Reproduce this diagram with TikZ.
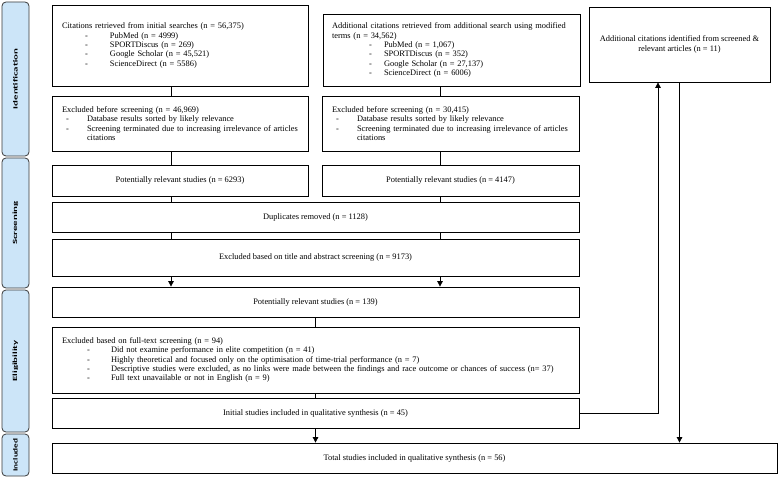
\documentclass[tikz,border=0pt]{standalone}
\usepackage{fontspec}
\setmainfont{Liberation Serif}
\newfontfamily\sidefont{Carlito}
\usetikzlibrary{arrows.meta,calc}
\definecolor{sidefill}{HTML}{CCE5F8}
\definecolor{sideline}{HTML}{3A3A3A}
\newcommand{\itm}[3]{\hspace*{#1pt}\makebox[#2pt][l]{-}#3}
\newcommand{\sidetext}[2][1.7]{\scalebox{#1}[1]{#2}}
\begin{document}
\begin{tikzpicture}[x=1pt,y=-1pt,
  box/.style={draw=black,line width=0.8pt,inner sep=0pt,font=\fontsize{8.4}{9.3}\selectfont},
  lbox/.style={box,align=left},
  cbox/.style={box,align=center},
  side/.style={draw=sideline,fill=sidefill,line width=0.8pt,rounded corners=4pt,rotate=90,
    minimum height=27pt,inner sep=0pt,font=\sidefont\bfseries\fontsize{6.4}{7}\selectfont},
  line/.style={draw=black,line width=0.8pt},
  arr/.style={line,-{Triangle[width=5.5pt,length=5.5pt]}}]
\useasboundingbox (0,0) rectangle (778,478);
% side bars
\node[side,minimum width=154pt] (sIdent) at (15.5,79) {\sidetext{Identification}};
\node[side,minimum width=130pt] (sScreen) at (15.5,223) {\sidetext{Screening}};
\node[side,minimum width=142pt] (sElig) at (15.5,361) {\sidetext{Eligibility}};
\node[side,minimum width=42pt] (sIncl) at (15.5,455) {\sidetext[1.45]{Included}};
% boxes
\node[lbox,minimum width=256pt,minimum height=81pt,text width=236pt] (A) at (180,45.5)
 {Citations retrieved from initial searches (n = 56,375)\\
  \itm{23}{25}{PubMed (n = 4999)}\\
  \itm{23}{25}{SPORTDiscus (n = 269)}\\
  \itm{23}{25}{Google Scholar (n = 45,521)}\\
  \itm{23}{25}{ScienceDirect (n = 5586)}};
\node[lbox,minimum width=257pt,minimum height=72pt,text width=240pt] (B) at (452,50)
 {Additional citations retrieved from additional search using modified\\ terms (n = 34,562)\\
  \itm{37}{15}{PubMed (n = 1,067)}\\
  \itm{37}{15}{SPORTDiscus (n = 352)}\\
  \itm{37}{15}{Google Scholar (n = 27,137)}\\
  \itm{37}{15}{ScienceDirect (n = 6006)}};
\node[cbox,minimum width=181pt,minimum height=75pt] (C) at (679.5,44.5)
 {Additional citations identified from screened \&\\ relevant articles (n = 11)};
\node[lbox,minimum width=256pt,minimum height=55pt,text width=236pt] (EA) at (180,123.5)
 {Excluded before screening (n = 46,969)\\
  \itm{4}{21}{Database results sorted by likely relevance}\\
  \itm{4}{21}{Screening terminated due to increasing irrelevance of articles}\\
  \hspace*{25pt}citations};
\node[lbox,minimum width=257pt,minimum height=55pt,text width=237pt] (EB) at (450.5,123.5)
 {Excluded before screening (n = 30,415)\\
  \itm{4}{21}{Database results sorted by likely relevance}\\
  \itm{4}{21}{Screening terminated due to increasing irrelevance of articles}\\
  \hspace*{25pt}citations};
\node[cbox,minimum width=256pt,minimum height=31pt] (PA) at (180,180.5)
 {Potentially relevant studies (n = 6293)};
\node[cbox,minimum width=257pt,minimum height=31pt] (PB) at (450.5,180.5)
 {Potentially relevant studies (n = 4147)};
\node[cbox,minimum width=527pt,minimum height=30pt] (Dup) at (315.5,217)
 {Duplicates removed (n = 1128)};
\node[cbox,minimum width=527pt,minimum height=37pt] (ETA) at (315.5,257.5)
 {Excluded based on title and abstract screening (n = 9173)};
\node[cbox,minimum width=527pt,minimum height=30pt] (P139) at (315.5,302)
 {Potentially relevant studies (n = 139)};
\node[lbox,minimum width=527pt,minimum height=66pt,text width=507pt] (EFT) at (315.5,360)
 {Excluded based on full-text screening (n = 94)\\
  \itm{25}{24}{Did not examine performance in elite competition (n = 41)}\\
  \itm{25}{24}{Highly theoretical and focused only on the optimisation of time-trial performance (n = 7)}\\
  \itm{25}{24}{Descriptive studies were excluded, as no links were made between the findings and race outcome or chances of success (n= 37)}\\
  \itm{25}{24}{Full text unavailable or not in English (n = 9)}};
\node[cbox,minimum width=527pt,minimum height=30pt] (Init) at (315.5,413)
 {Initial studies included in qualitative synthesis (n = 45)};
\node[cbox,minimum width=725pt,minimum height=30pt] (Tot) at (414.5,458)
 {Total studies included in qualitative synthesis (n = 56)};
% column coordinates
\coordinate (colL) at (171,0);
\coordinate (colR) at (440,0);
\coordinate (upX) at (658,0);
% connectors
\draw[line] (A.south -| colL) -- (EA.north -| colL);
\draw[line] (B.south -| colR) -- (EB.north -| colR);
\draw[line] (EA.south -| colL) -- (PA.north -| colL);
\draw[line] (EB.south -| colR) -- (PB.north -| colR);
\draw[line] (PA.south -| colL) -- (Dup.north -| colL);
\draw[line] (PB.south -| colR) -- (Dup.north -| colR);
\draw[line] (Dup.south -| colL) -- (ETA.north -| colL);
\draw[line] (Dup.south -| colR) -- (ETA.north -| colR);
\draw[arr] (ETA.south -| colL) -- (P139.north -| colL);
\draw[arr] (ETA.south -| colR) -- (P139.north -| colR);
\draw[line] (P139.south) -- (EFT.north);
\draw[line] (EFT.south) -- (Init.north);
\draw[arr] (Init.south) -- (Tot.north -| Init.south);
\draw[arr] (Init.east) -- (Init.east -| upX) -- (C.south -| upX);
\draw[arr] (C.south) -- (Tot.north -| C.south);
\end{tikzpicture}
\end{document}
